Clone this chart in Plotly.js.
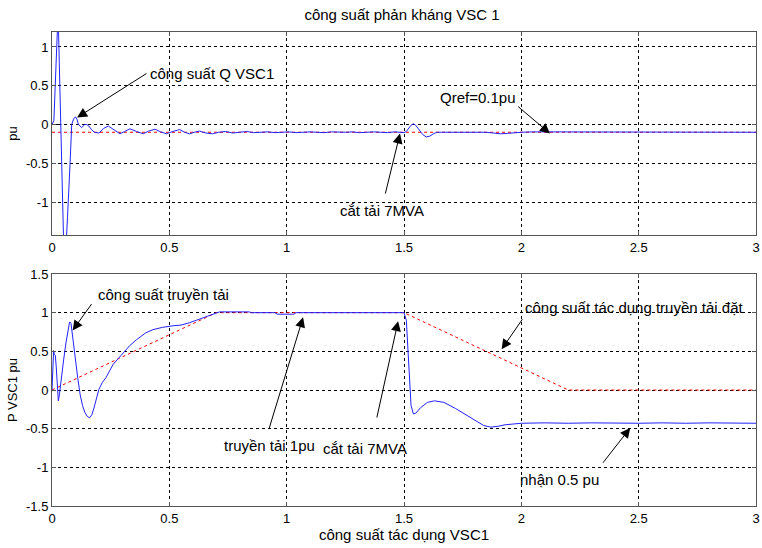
<!DOCTYPE html>
<html>
<head>
<meta charset="utf-8">
<script src="https://cdn.plot.ly/plotly-3.0.1.min.js"></script>
<style>html,body{margin:0;padding:0;background:#fff;}#chart{width:762px;height:548px;}</style>
</head>
<body>
<div id="chart"></div>
<script>
// ---- data ----
const qTime = [0, 0.008, 0.015, 0.02, 0.026, 0.031, 0.037, 0.043, 0.049, 0.055, 0.061, 0.066, 0.07, 0.077, 0.084, 0.092, 0.1, 0.106, 0.113, 0.12, 0.126, 0.133, 0.14, 0.148, 0.157, 0.167, 0.18, 0.2, 0.22, 0.24, 0.265, 0.29, 0.31, 0.332, 0.36, 0.389, 0.412, 0.439, 0.463, 0.487, 0.515, 0.544, 0.565, 0.586, 0.607, 0.628, 0.656, 0.685, 0.71, 0.74, 0.77, 0.8, 0.83, 0.86, 0.89, 0.92, 0.95, 0.98, 1.01, 1.04, 1.07, 1.1, 1.13, 1.16, 1.19, 1.22, 1.25, 1.28, 1.31, 1.34, 1.37, 1.4, 1.43, 1.46, 1.49, 1.5, 1.51, 1.52, 1.53, 1.54, 1.55, 1.565, 1.58, 1.595, 1.61, 1.625, 1.64, 1.66, 1.7, 1.75, 1.8, 1.85, 1.88, 1.91, 1.94, 1.97, 2.0, 2.05, 2.1, 2.15, 2.2, 2.25, 2.3, 2.35, 2.4, 2.45, 2.5, 2.55, 2.6, 2.65, 2.7, 2.75, 2.8, 2.85, 2.9, 2.95, 3.0];
const qValue = [0, 0.05, 0.6, 1.05, 1.45, 0.8, 0.0, -0.75, -1.45, -1.7, -1.5, -1.2, -1.0, -0.5, 0.0, 0.07, 0.1, 0.07, 0.0, -0.03, -0.04, -0.02, 0.0, 0.0, -0.02, -0.06, -0.1, -0.11, -0.05, -0.02, -0.07, -0.12, -0.09, -0.055, -0.09, -0.12, -0.085, -0.06, -0.095, -0.12, -0.09, -0.065, -0.1, -0.12, -0.1, -0.085, -0.11, -0.12, -0.1, -0.09, -0.11, -0.1, -0.09, -0.105, -0.1, -0.095, -0.105, -0.1, -0.095, -0.105, -0.1, -0.095, -0.1, -0.105, -0.095, -0.1, -0.1, -0.095, -0.105, -0.1, -0.095, -0.1, -0.105, -0.095, -0.1, -0.105, -0.09, -0.05, -0.01, 0.01, -0.01, -0.07, -0.13, -0.16, -0.15, -0.12, -0.1, -0.1, -0.1, -0.095, -0.1, -0.1, -0.11, -0.12, -0.115, -0.105, -0.1, -0.095, -0.095, -0.1, -0.095, -0.1, -0.095, -0.1, -0.095, -0.1, -0.095, -0.1, -0.095, -0.1, -0.095, -0.1, -0.095, -0.1, -0.095, -0.1, -0.1];
const qInitTime = [0, 0.04];
const qInitValue = [0, 0];
const qRefTime = [0, 3];
const qRefValue = [-0.1, -0.1];

const pTime = [0, 0.003, 0.007, 0.01, 0.014, 0.018, 0.022, 0.027, 0.032, 0.04, 0.05, 0.06, 0.068, 0.075, 0.081, 0.09, 0.1, 0.11, 0.12, 0.13, 0.14, 0.15, 0.16, 0.17, 0.18, 0.19, 0.2, 0.215, 0.23, 0.26, 0.3, 0.33, 0.36, 0.4, 0.43, 0.47, 0.515, 0.55, 0.586, 0.62, 0.66, 0.69, 0.714, 0.76, 0.84, 0.85, 0.95, 0.96, 1.03, 1.04, 1.2, 1.4, 1.5, 1.51, 1.52, 1.53, 1.54, 1.55, 1.57, 1.6, 1.63, 1.67, 1.72, 1.78, 1.84, 1.87, 1.9, 1.93, 1.96, 2.0, 2.1, 2.2, 2.3, 2.4, 2.5, 2.6, 2.7, 2.8, 2.9, 3.0];
const pValue = [0.0, 0.3, 0.51, 0.46, 0.45, 0.3, 0.0, -0.14, -0.05, 0.18, 0.4, 0.62, 0.78, 0.88, 0.86, 0.62, 0.38, 0.15, -0.06, -0.2, -0.29, -0.34, -0.36, -0.32, -0.22, -0.1, 0.01, 0.1, 0.16, 0.33, 0.47, 0.57, 0.65, 0.74, 0.78, 0.81, 0.83, 0.84, 0.87, 0.91, 0.95, 0.99, 1.01, 1.01, 1.01, 1.0, 1.0, 0.98, 0.98, 1.0, 1.0, 1.0, 1.0, 0.9, 0.3, -0.2, -0.31, -0.3, -0.23, -0.16, -0.14, -0.16, -0.24, -0.35, -0.46, -0.48, -0.47, -0.45, -0.44, -0.43, -0.425, -0.43, -0.425, -0.43, -0.43, -0.425, -0.43, -0.425, -0.43, -0.43];
const pRefTime = [0, 0.7, 1.5, 2.2, 3];
const pRefValue = [0, 1, 1, 0, 0];

const xTickVals = [0, 0.5, 1, 1.5, 2, 2.5, 3];
const xTickText = ['0', '0.5', '1', '1.5', '2', '2.5', '3'];
const qTickVals = [-1, -0.5, 0, 0.5, 1];
const qTickText = ['-1', '-0.5', '0', '0.5', '1'];
const pTickVals = [-1.5, -1, -0.5, 0, 0.5, 1, 1.5];
const pTickText = ['-1.5', '-1', '-0.5', '0', '0.5', '1', '1.5'];

// annotation texts
const labelText = ['công suất Q VSC1', 'Qref=0.1pu', 'cắt tải 7MVA', 'công suất truyền tải', 'truyền tải 1pu', 'cắt tải 7MVA', 'công suất tác dụng truyền tải đặt', 'nhận 0.5 pu'];
const labelX = [0.409, 1.645, 1.219, 0.189, 0.723, 1.148, 2.007, 1.987];
const labelY = [0.66, 0.351, -1.103, 1.238, -0.724, -0.76, 1.065, -1.151];
const labelPlot = [1, 1, 1, 2, 2, 2, 2, 2];
// arrows: tip and tail
const arrowTipX = [0.107, 2.122, 1.483, 0.088, 1.07, 1.475, 1.916, 2.464];
const arrowTipY = [0.09, -0.116, -0.116, 0.77, 0.94, 0.89, 0.526, -0.49];
const arrowTailX = [0.409, 1.98, 1.419, 0.173, 0.924, 1.383, 2.009, 2.343];
const arrowTailY = [0.67, 0.247, -0.91, 1.13, -0.51, -0.375, 0.935, -0.96];

// ---- chart ----
const FONT = 'Liberation Sans, Arial, sans-serif';
const blue = '#2222ff';
const red = '#ff0000';

const traces = [
  {x: qRefTime, y: qRefValue, xaxis: 'x', yaxis: 'y', mode: 'lines', line: {color: red, width: 1, dash: '3px,3px'}, hoverinfo: 'skip'},
  {x: qInitTime, y: qInitValue, xaxis: 'x', yaxis: 'y', mode: 'lines', line: {color: '#000', width: 1}, hoverinfo: 'skip'},
  {x: qTime, y: qValue, xaxis: 'x', yaxis: 'y', mode: 'lines', line: {color: blue, width: 1}},
  {x: pRefTime, y: pRefValue, xaxis: 'x2', yaxis: 'y2', mode: 'lines', line: {color: red, width: 1, dash: '3px,3px'}, hoverinfo: 'skip'},
  {x: pTime, y: pValue, xaxis: 'x2', yaxis: 'y2', mode: 'lines', line: {color: blue, width: 1}}
];

function axisBase() {
  return {
    showgrid: true, gridcolor: '#000', gridwidth: 1, griddash: '3px,3px',
    zeroline: false, showline: true, mirror: 'ticks', linecolor: '#555', linewidth: 1,
    ticks: 'inside', ticklen: 4, tickcolor: '#555',
    tickfont: {family: FONT, size: 13, color: '#000'}, tickmode: 'array', fixedrange: true
  };
}

const xDomain = [52 / 762, 756 / 762];
const layout = {
  width: 762, height: 548,
  margin: {l: 0, r: 0, t: 0, b: 0},
  paper_bgcolor: '#fff', plot_bgcolor: '#fff',
  showlegend: false,
  font: {family: FONT, size: 13, color: '#000'},
  title: {text: 'công suất phản kháng VSC 1', font: {family: FONT, size: 15, color: '#000'},
          x: 402 / 762, xanchor: 'center', xref: 'paper', y: 1 - 15 / 548, yanchor: 'middle', yref: 'container'},
  xaxis: Object.assign(axisBase(), {domain: xDomain, range: [0, 3], anchor: 'y', tickvals: xTickVals, ticktext: xTickText}),
  yaxis: Object.assign(axisBase(), {domain: [1 - 235 / 548, 1 - 32 / 548], range: [-1.425, 1.193], anchor: 'x',
          tickvals: qTickVals, ticktext: qTickText,
          title: {text: 'pu', font: {family: FONT, size: 13, color: '#000'}, standoff: 5}}),
  xaxis2: Object.assign(axisBase(), {domain: xDomain, range: [0, 3], anchor: 'y2', tickvals: xTickVals, ticktext: xTickText,
          title: {text: 'công suất tác dụng VSC1', font: {family: FONT, size: 15, color: '#000'}, standoff: 4}}),
  yaxis2: Object.assign(axisBase(), {domain: [1 - 506 / 548, 1 - 274 / 548], range: [-1.5, 1.5], anchor: 'x2',
          tickvals: pTickVals, ticktext: pTickText,
          title: {text: 'P VSC1 pu', font: {family: FONT, size: 13, color: '#000'}, standoff: 5}}),
  annotations: []
};

for (let i = 0; i < labelText.length; i++) {
  const sx = labelPlot[i] === 1 ? 'x' : 'x2';
  const sy = labelPlot[i] === 1 ? 'y' : 'y2';
  layout.annotations.push({
    x: arrowTipX[i], y: arrowTipY[i], xref: sx, yref: sy,
    ax: arrowTailX[i], ay: arrowTailY[i], axref: sx, ayref: sy,
    text: '', showarrow: true, arrowhead: 2, arrowsize: 2, arrowwidth: 1, arrowcolor: '#000'
  });
  layout.annotations.push({
    x: labelX[i], y: labelY[i], xref: sx, yref: sy, text: labelText[i], showarrow: false,
    xanchor: 'left', yanchor: 'middle', font: {family: FONT, size: 15, color: '#000'}
  });
}

Plotly.newPlot('chart', traces, layout, {staticPlot: true, displayModeBar: false});
</script>
</body>
</html>
